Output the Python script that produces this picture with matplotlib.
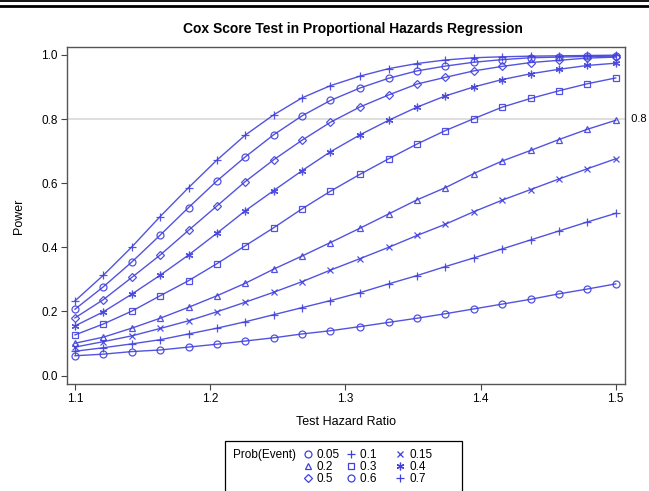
import numpy as np
import matplotlib
matplotlib.use("Agg")
import matplotlib.pyplot as plt
from matplotlib.lines import Line2D
from matplotlib.patches import Rectangle

plt.rcParams['font.family'] = ['Liberation Sans', 'DejaVu Sans']

# test hazard ratios (20 points from 1.1 to 1.5)
hazard_ratio = [1.1, 1.121, 1.142, 1.163, 1.184, 1.205, 1.226, 1.247, 1.268, 1.289,
                1.311, 1.332, 1.353, 1.374, 1.395, 1.416, 1.437, 1.458, 1.479, 1.5]

prob_event = ["0.05", "0.1", "0.15", "0.2", "0.3", "0.4", "0.5", "0.6", "0.7"]

power_005 = [0.062, 0.067, 0.075, 0.080, 0.089, 0.098, 0.108, 0.118, 0.130, 0.140,
             0.153, 0.166, 0.179, 0.193, 0.208, 0.223, 0.238, 0.255, 0.270, 0.286]
power_010 = [0.076, 0.087, 0.099, 0.112, 0.130, 0.148, 0.168, 0.190, 0.212, 0.234,
             0.259, 0.286, 0.312, 0.340, 0.367, 0.395, 0.423, 0.451, 0.479, 0.506]
power_015 = [0.089, 0.106, 0.124, 0.147, 0.171, 0.199, 0.229, 0.260, 0.293, 0.329,
             0.365, 0.400, 0.437, 0.472, 0.511, 0.547, 0.580, 0.613, 0.645, 0.676]
power_020 = [0.101, 0.120, 0.148, 0.179, 0.213, 0.249, 0.288, 0.332, 0.373, 0.415,
             0.460, 0.504, 0.548, 0.586, 0.630, 0.669, 0.702, 0.736, 0.768, 0.796]
power_030 = [0.127, 0.161, 0.201, 0.249, 0.296, 0.349, 0.405, 0.461, 0.520, 0.575,
             0.628, 0.676, 0.722, 0.764, 0.801, 0.837, 0.864, 0.888, 0.910, 0.928]
power_040 = [0.155, 0.199, 0.254, 0.313, 0.376, 0.444, 0.514, 0.577, 0.639, 0.698,
             0.751, 0.796, 0.837, 0.872, 0.900, 0.923, 0.941, 0.955, 0.967, 0.974]
power_050 = [0.180, 0.237, 0.306, 0.376, 0.453, 0.529, 0.605, 0.673, 0.734, 0.790,
             0.838, 0.875, 0.909, 0.930, 0.950, 0.964, 0.976, 0.983, 0.990, 0.993]
power_060 = [0.207, 0.277, 0.354, 0.438, 0.524, 0.607, 0.682, 0.751, 0.810, 0.858,
             0.897, 0.927, 0.950, 0.965, 0.977, 0.985, 0.991, 0.993, 0.995, 0.996]
power_070 = [0.233, 0.313, 0.401, 0.496, 0.586, 0.672, 0.750, 0.813, 0.866, 0.904,
             0.934, 0.957, 0.973, 0.984, 0.991, 0.994, 0.996, 0.997, 0.998, 0.999]

series = [power_005, power_010, power_015, power_020, power_030,
          power_040, power_050, power_060, power_070]
markers = ['o', '+', 'x', '^', 's', (6, 2, 0), 'D', 'o', '+']
msizes = [5, 5.5, 4.5, 5, 4.5, 5.5, 4.5, 5, 5.5]

blue = '#4040dd'

fig = plt.figure(figsize=(6.49, 4.91), dpi=100)
ax = fig.add_axes([0.1028, 0.2173, 0.8603, 0.686])

ax.axhline(0.8, color='#dcdcdc', lw=1.3, zorder=0)

for vals, mk, ms in zip(series, markers, msizes):
    ax.plot(hazard_ratio, vals, color=blue, lw=1.0, alpha=0.9,
            marker=mk, markersize=ms, markerfacecolor='none',
            markeredgecolor=blue, markeredgewidth=0.9)

ax.set_xlim(1.0939, 1.5069)
ax.set_ylim(-0.027, 1.023)
ax.set_xticks([1.1, 1.2, 1.3, 1.4, 1.5])
ax.set_yticks([0.0, 0.2, 0.4, 0.6, 0.8, 1.0])
ax.set_xticklabels(['1.1', '1.2', '1.3', '1.4', '1.5'])
ax.set_yticklabels(['0.0', '0.2', '0.4', '0.6', '0.8', '1.0'])
ax.tick_params(direction='out', length=4.5, width=0.8, color='#444444',
               labelsize=8.5, pad=2)
for sp in ax.spines.values():
    sp.set_color('#555555')
    sp.set_linewidth(1.0)

ax.set_xlabel('Test Hazard Ratio', fontsize=9, labelpad=8)
ax.set_ylabel('Power', fontsize=9, labelpad=12)
ax.text(1.0, 0.8, '  0.8', transform=ax.get_yaxis_transform(),
        va='center', ha='left', fontsize=8)

fig.text(0.544, 0.941, 'Cox Score Test in Proportional Hazards Regression',
         ha='center', va='center', fontsize=10, fontweight='bold')

# double rule at top
fig.add_artist(Line2D([0, 1], [1 - 1.2 / 491, 1 - 1.2 / 491], color='black',
                      lw=1.3, transform=fig.transFigure))
fig.add_artist(Line2D([0, 1], [1 - 6.2 / 491, 1 - 6.2 / 491], color='black',
                      lw=2.0, transform=fig.transFigure))

# legend, filled row by row
blank = Line2D([], [], linestyle='none', marker=None)
hdl = {lab: Line2D([], [], linestyle='none', marker=mk, markersize=ms,
                   markerfacecolor='none', markeredgecolor=blue, markeredgewidth=0.9)
       for lab, mk, ms in zip(prob_event, markers, msizes)}
order = [[0, 3, 6], [1, 4, 7], [2, 5, 8]]
handles = [blank, blank, blank]
labels = ['Prob(Event)', '', '']
for k, col in enumerate(order):
    for i in col:
        handles.append(hdl[prob_event[i]])
        # middle column padded so the columns come out evenly spaced
        labels.append(prob_event[i] + ('    ' if k == 1 else ''))
leg = fig.legend(handles, labels, ncol=4, loc='upper left',
                 bbox_to_anchor=(224 / 649, 1 - 440 / 491),
                 fontsize=8.5, frameon=False,
                 handlelength=0.8, handletextpad=0.35, columnspacing=0.55,
                 labelspacing=0.0, borderpad=0.3)
# drop the empty handle slot in front of the "Prob(Event)" column
col0 = leg._legend_handle_box.get_children()[0]
for hp in col0.get_children():
    hp.get_children()[0].width = 0
    hp.sep = 0

fig.add_artist(Rectangle((225 / 649, 1 - 493 / 491), 237 / 649, 52 / 491,
                         transform=fig.transFigure, fill=False,
                         edgecolor='black', lw=0.9))

fig.savefig('out.png', dpi=100)
